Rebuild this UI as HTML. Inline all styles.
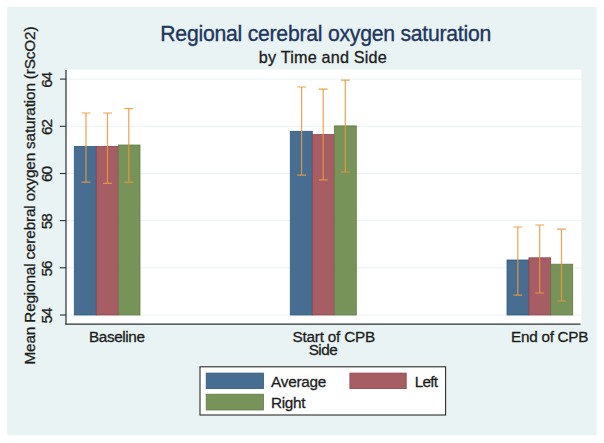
<!DOCTYPE html>
<html><head><meta charset="utf-8"><title>Regional cerebral oxygen saturation</title>
<style>html,body{margin:0;padding:0;background:#fff;}svg{display:block;}text{font-family:"Liberation Sans",sans-serif;}</style></head><body>
<svg width="604" height="443" viewBox="0 0 604 443">
<rect x="0" y="0" width="604" height="443" fill="#ffffff"/>
<rect x="7.2" y="6.9" width="589.5" height="428.3" fill="#e9f3f3"/>
<rect x="66" y="69.5" width="515.3" height="254.5" fill="#ffffff"/>
<line x1="66" x2="581" y1="79.1" y2="79.1" stroke="#eaf2f3" stroke-width="1"/>
<line x1="66" x2="581" y1="126.3" y2="126.3" stroke="#eaf2f3" stroke-width="1"/>
<line x1="66" x2="581" y1="173.5" y2="173.5" stroke="#eaf2f3" stroke-width="1"/>
<line x1="66" x2="581" y1="220.6" y2="220.6" stroke="#eaf2f3" stroke-width="1"/>
<line x1="66" x2="581" y1="267.8" y2="267.8" stroke="#eaf2f3" stroke-width="1"/>
<line x1="66" x2="581" y1="315.0" y2="315.0" stroke="#eaf2f3" stroke-width="1"/>
<rect x="74.3" y="146.5" width="22.0" height="168.5" fill="#476d90" stroke="#2f577d" stroke-width="0.8"/>
<rect x="96.3" y="146.5" width="22.0" height="168.5" fill="#a65d64" stroke="#8e444c" stroke-width="0.8"/>
<rect x="118.3" y="145.0" width="21.7" height="170.0" fill="#77935a" stroke="#5f7d44" stroke-width="0.8"/>
<rect x="290.3" y="131.3" width="22.0" height="183.7" fill="#476d90" stroke="#2f577d" stroke-width="0.8"/>
<rect x="312.3" y="134.6" width="22.0" height="180.4" fill="#a65d64" stroke="#8e444c" stroke-width="0.8"/>
<rect x="334.3" y="125.9" width="22.0" height="189.1" fill="#77935a" stroke="#5f7d44" stroke-width="0.8"/>
<rect x="507.0" y="260.0" width="21.9" height="55.0" fill="#476d90" stroke="#2f577d" stroke-width="0.8"/>
<rect x="528.9" y="257.8" width="21.8" height="57.2" fill="#a65d64" stroke="#8e444c" stroke-width="0.8"/>
<rect x="550.7" y="264.2" width="22.0" height="50.8" fill="#77935a" stroke="#5f7d44" stroke-width="0.8"/>
<path d="M86.0 113.0V182.1M81.6 113.0H90.4M81.6 182.1H90.4" fill="none" stroke="#e8993e" stroke-width="1.2" stroke-opacity="0.9"/>
<path d="M107.5 113.0V183.3M103.1 113.0H111.9M103.1 183.3H111.9" fill="none" stroke="#e8993e" stroke-width="1.2" stroke-opacity="0.9"/>
<path d="M128.8 108.7V182.1M124.4 108.7H133.2M124.4 182.1H133.2" fill="none" stroke="#e8993e" stroke-width="1.2" stroke-opacity="0.9"/>
<path d="M301.6 87.0V175.2M297.2 87.0H306.0M297.2 175.2H306.0" fill="none" stroke="#e8993e" stroke-width="1.2" stroke-opacity="0.9"/>
<path d="M323.2 89.2V179.9M318.8 89.2H327.6M318.8 179.9H327.6" fill="none" stroke="#e8993e" stroke-width="1.2" stroke-opacity="0.9"/>
<path d="M345.3 80.2V172.0M340.9 80.2H349.7M340.9 172.0H349.7" fill="none" stroke="#e8993e" stroke-width="1.2" stroke-opacity="0.9"/>
<path d="M517.8 227.0V295.1M513.4 227.0H522.2M513.4 295.1H522.2" fill="none" stroke="#e8993e" stroke-width="1.2" stroke-opacity="0.9"/>
<path d="M539.7 225.0V293.0M535.3 225.0H544.1M535.3 293.0H544.1" fill="none" stroke="#e8993e" stroke-width="1.2" stroke-opacity="0.9"/>
<path d="M561.5 229.2V301.0M557.1 229.2H565.9M557.1 301.0H565.9" fill="none" stroke="#e8993e" stroke-width="1.2" stroke-opacity="0.9"/>
<line x1="66" x2="66" y1="70" y2="324.5" stroke="#2a3036" stroke-width="1.2"/>
<line x1="65.4" x2="580.5" y1="324.2" y2="324.2" stroke="#2a3036" stroke-width="1.2"/>
<line x1="60" x2="66" y1="79.1" y2="79.1" stroke="#2a3036" stroke-width="1.1"/>
<text transform="translate(51.5 79.7) rotate(-90)" text-anchor="middle" font-size="15.3" fill="#1c1c1c" stroke="#1c1c1c" stroke-width="0.3" textLength="16.0" lengthAdjust="spacing">64</text>
<line x1="60" x2="66" y1="126.3" y2="126.3" stroke="#2a3036" stroke-width="1.1"/>
<text transform="translate(51.5 126.9) rotate(-90)" text-anchor="middle" font-size="15.3" fill="#1c1c1c" stroke="#1c1c1c" stroke-width="0.3" textLength="16.0" lengthAdjust="spacing">62</text>
<line x1="60" x2="66" y1="173.5" y2="173.5" stroke="#2a3036" stroke-width="1.1"/>
<text transform="translate(51.5 174.1) rotate(-90)" text-anchor="middle" font-size="15.3" fill="#1c1c1c" stroke="#1c1c1c" stroke-width="0.3" textLength="16.0" lengthAdjust="spacing">60</text>
<line x1="60" x2="66" y1="220.6" y2="220.6" stroke="#2a3036" stroke-width="1.1"/>
<text transform="translate(51.5 221.2) rotate(-90)" text-anchor="middle" font-size="15.3" fill="#1c1c1c" stroke="#1c1c1c" stroke-width="0.3" textLength="16.0" lengthAdjust="spacing">58</text>
<line x1="60" x2="66" y1="267.8" y2="267.8" stroke="#2a3036" stroke-width="1.1"/>
<text transform="translate(51.5 268.4) rotate(-90)" text-anchor="middle" font-size="15.3" fill="#1c1c1c" stroke="#1c1c1c" stroke-width="0.3" textLength="16.0" lengthAdjust="spacing">56</text>
<line x1="60" x2="66" y1="315.0" y2="315.0" stroke="#2a3036" stroke-width="1.1"/>
<text transform="translate(51.5 315.6) rotate(-90)" text-anchor="middle" font-size="15.3" fill="#1c1c1c" stroke="#1c1c1c" stroke-width="0.3" textLength="16.0" lengthAdjust="spacing">54</text>
<text transform="translate(35.3 195.5) rotate(-90)" text-anchor="middle" font-size="15.3" fill="#1c1c1c" stroke="#1c1c1c" stroke-width="0.3" textLength="338" lengthAdjust="spacing">Mean Regional cerebral oxygen saturation (rScO2)</text>
<text x="160.3" y="40.7" font-size="21.2" fill="#1e3560" stroke="#1e3560" stroke-width="0.35" textLength="331" lengthAdjust="spacing">Regional cerebral oxygen saturation</text>
<text x="258.8" y="63" font-size="16.2" fill="#1c1c1c" stroke="#1c1c1c" stroke-width="0.3" textLength="128" lengthAdjust="spacing">by Time and Side</text>
<text x="89" y="341.7" font-size="15.3" fill="#1c1c1c" stroke="#1c1c1c" stroke-width="0.3" textLength="56" lengthAdjust="spacing">Baseline</text>
<text x="292.5" y="341.7" font-size="15.3" fill="#1c1c1c" stroke="#1c1c1c" stroke-width="0.3" textLength="82.7" lengthAdjust="spacing">Start of CPB</text>
<text x="511" y="341.7" font-size="15.3" fill="#1c1c1c" stroke="#1c1c1c" stroke-width="0.3" textLength="77.5" lengthAdjust="spacing">End of CPB</text>
<text x="308.7" y="354.9" font-size="15.3" fill="#1c1c1c" stroke="#1c1c1c" stroke-width="0.3" textLength="29" lengthAdjust="spacing">Side</text>
<rect x="200" y="366.8" width="245.6" height="48.2" fill="#ffffff" stroke="#2a2a2a" stroke-width="1.1"/>
<rect x="206.2" y="373.1" width="57.3" height="15.5" fill="#476d90" stroke="#2f577d" stroke-width="0.8"/>
<rect x="206.2" y="394.2" width="57.3" height="15.8" fill="#77935a" stroke="#5f7d44" stroke-width="0.8"/>
<rect x="349.9" y="373.1" width="56.3" height="15.5" fill="#a65d64" stroke="#8e444c" stroke-width="0.8"/>
<text x="271.1" y="387" font-size="15.3" fill="#1c1c1c" stroke="#1c1c1c" stroke-width="0.3" textLength="55.2" lengthAdjust="spacing">Average</text>
<text x="271.0" y="407.5" font-size="15.3" fill="#1c1c1c" stroke="#1c1c1c" stroke-width="0.3" textLength="34.5" lengthAdjust="spacing">Right</text>
<text x="414.8" y="387" font-size="15.3" fill="#1c1c1c" stroke="#1c1c1c" stroke-width="0.3" textLength="23.2" lengthAdjust="spacing">Left</text>
</svg></body></html>
